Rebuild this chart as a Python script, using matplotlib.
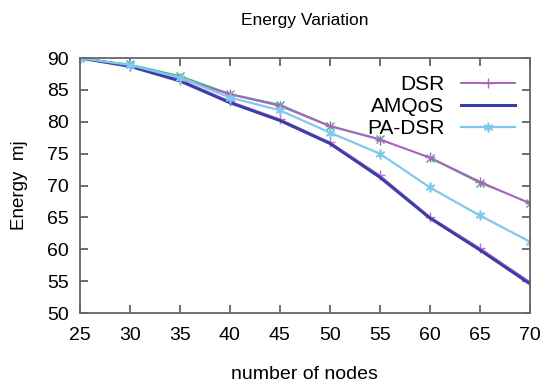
import numpy as np
from matplotlib import pyplot as plt

plt.rcParams['font.family'] = ['Liberation Sans', 'DejaVu Sans']

nodes = [25, 30, 35, 40, 45, 50, 55, 60, 65, 70]
dsr = [90, 88.8, 86.8, 84.3, 82.5, 79.3, 77.2, 74.4, 70.6, 67.2]
dsr_b = [90, 89.0, 87.2, 84.4, 82.7, 79.4, 77.3, 74.3, 70.4, 67.3]
amqos = [90, 88.7, 86.4, 83.0, 80.2, 76.6, 71.3, 64.9, 59.9, 54.6]
amqos_b = [90, 88.8, 86.6, 83.2, 80.4, 76.8, 71.6, 65.1, 60.2, 54.9]
pa_dsr = [90, 88.9, 86.9, 83.8, 81.8, 78.3, 75.0, 69.7, 65.3, 61.2]

fig = plt.figure(figsize=(5.53, 3.92), dpi=100)
ax = fig.add_axes([0.1447, 0.2015, 0.8133, 0.6505])

# faint companion curves (unlabelled in the original)
ax.plot(nodes, dsr_b, color='#3cb07a', lw=1.0, marker='x', ms=6, mew=1.0)
ax.plot(nodes, dsr, color='#b060c0', lw=1.4, marker='+', ms=7, mew=1.0, label='DSR')
ax.plot(nodes, amqos_b, color='#c070c8', lw=1.2, marker='+', ms=7, mew=1.0)
ax.plot(nodes, amqos, color='#3a3fa8', lw=2.2, label='AMQoS')
ax.plot(nodes, pa_dsr, color='#80c8ee', lw=1.6, marker=(6, 2, 0), ms=7, mew=1.2, label='PA-DSR')

ax.set_xlim(25, 70)
ax.set_ylim(50, 90)
ax.set_xticks(nodes)
ax.set_yticks(range(50, 91, 5))
ax.tick_params(direction='in', top=True, right=True, length=6, width=1.2,
               color='#555555', labelsize=14, pad=10)
ax.tick_params(axis='y', pad=8)
for s in ax.spines.values():
    s.set_color('#666666')
    s.set_linewidth(1.3)

ax.set_title('Energy Variation', fontsize=12.5, pad=24)
ax.set_xlabel('number of nodes', fontsize=14, labelpad=16)
ax.set_ylabel('Energy  mj', fontsize=13.5, labelpad=14)

leg = ax.legend(loc='upper right', markerfirst=False, frameon=False, fontsize=15,
                handlelength=2.6, labelspacing=0.15, borderaxespad=0.3,
                bbox_to_anchor=(1.0, 0.99))
for t in leg.get_texts():
    t.set_ha('right')

plt.savefig('out.png', dpi=100)
